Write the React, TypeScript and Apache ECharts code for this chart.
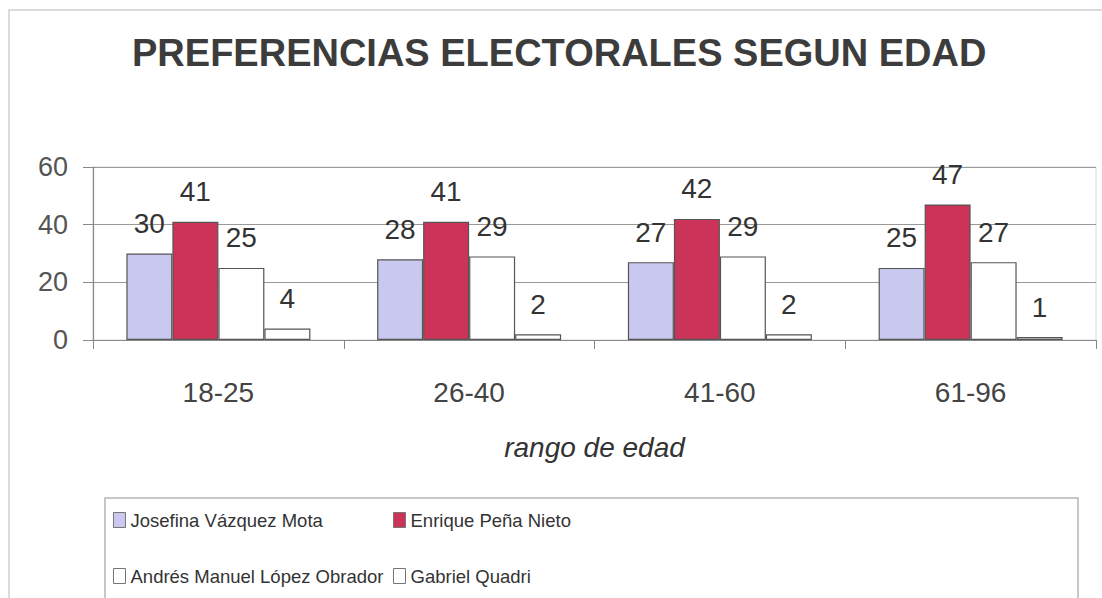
import React, { useEffect, useRef } from "react";
import * as echarts from "echarts";

const categories = ["18-25", "26-40", "41-60", "61-96"];
const seriesNames = [
  "Josefina Vázquez Mota",
  "Enrique Peña Nieto",
  "Andrés Manuel López Obrador",
  "Gabriel Quadri",
];
const josefina = [30, 28, 27, 25];
const enrique = [41, 41, 42, 47];
const andres = [25, 29, 29, 27];
const gabriel = [4, 2, 2, 1];
const seriesColors = ["#c9c9ef", "#cc3358", "#ffffff", "#ffffff"];
const titleText = "PREFERENCIAS ELECTORALES SEGUN EDAD";
const xAxisName = "rango de edad";

const FONT = "'Liberation Sans', Arial, Helvetica, sans-serif";

export default function App() {
  const ref = useRef<HTMLDivElement>(null);
  useEffect(() => {
    if (!ref.current) return;
    const chart = echarts.init(ref.current, null, { renderer: "svg" });
    const values = [josefina, enrique, andres, gabriel];
    const series = values.map((v, i) => ({
      name: seriesNames[i],
      type: "bar",
      data: v,
      barWidth: 46,
      barGap: "0%",
      itemStyle: { color: seriesColors[i], borderColor: "#555", borderWidth: 1.2 },
      label: {
        show: true,
        position: "top",
        distance: 16,
        fontFamily: FONT,
        fontSize: 28,
        color: "#333",
      },
    }));
    const legendItem = (i: number) => ({
      name: seriesNames[i],
      itemStyle: { color: seriesColors[i], borderColor: "#777", borderWidth: 1 },
    });
    const legendCommon = {
      orient: "vertical",
      top: 509,
      padding: 0,
      itemWidth: 12,
      itemHeight: 15,
      itemGap: 34,
      icon: "rect",
      selectedMode: false,
      textStyle: { fontFamily: FONT, fontSize: 18.5, color: "#333", lineHeight: 22 },
    };
    chart.setOption({
      animation: false,
      backgroundColor: "#ffffff",
      textStyle: { fontFamily: FONT },
      title: {
        text: titleText,
        left: 132,
        top: 34,
        padding: 0,
        textStyle: { fontFamily: FONT, fontSize: 38, fontWeight: "bold", color: "#3c3c3c" },
      },
      grid: {
        left: 93,
        right: 6,
        top: 167,
        bottom: 258,
        show: true,
        borderColor: "#d8d8d8",
        borderWidth: 1,
      },
      xAxis: {
        type: "category",
        data: categories,
        name: xAxisName,
        nameLocation: "middle",
        nameGap: 93,
        nameTextStyle: { fontFamily: FONT, fontSize: 28, fontStyle: "italic", color: "#333" },
        axisLine: { lineStyle: { color: "#888", width: 1.2 } },
        axisTick: { show: true, length: 9, interval: 0, lineStyle: { color: "#888" } },
        axisLabel: { fontFamily: FONT, fontSize: 28, color: "#444", margin: 38, interval: 0 },
      },
      yAxis: {
        type: "value",
        min: 0,
        max: 60,
        interval: 20,
        axisLine: { show: true, lineStyle: { color: "#888", width: 1.2 } },
        axisTick: { show: true, length: 10, lineStyle: { color: "#888" } },
        axisLabel: { fontFamily: FONT, fontSize: 27, color: "#555", margin: 25 },
        splitLine: { lineStyle: { color: "#999", width: 1 } },
      },
      legend: [
        { ...legendCommon, left: 113, data: [legendItem(0), legendItem(2)] },
        { ...legendCommon, left: 393, data: [legendItem(1), legendItem(3)] },
      ],
      graphic: [
        {
          type: "rect",
          shape: { x: 9, y: 10, width: 1100, height: 600 },
          style: { fill: "none", stroke: "#cfcfcf", lineWidth: 1.5 },
          silent: true,
          z: -1,
        },
        {
          type: "rect",
          shape: { x: 105, y: 498, width: 973, height: 110 },
          style: { fill: "none", stroke: "#b5b5b5", lineWidth: 1.5 },
          silent: true,
        },
      ],
      series,
    });
    return () => chart.dispose();
  }, []);
  return <div ref={ref} style={{ width: 1102, height: 598, position: "absolute", left: 0, top: 0 }} />;
}
